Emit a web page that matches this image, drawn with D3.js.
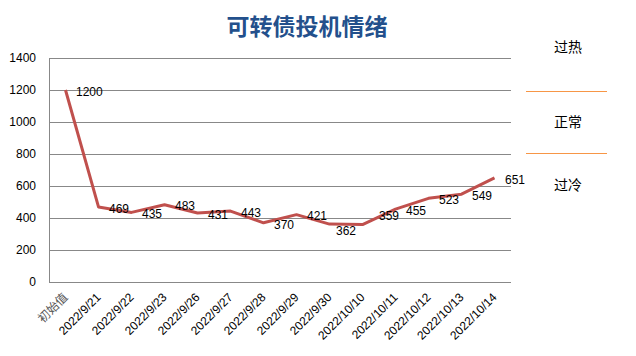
<!DOCTYPE html>
<html><head><meta charset="utf-8">
<script src="https://cdn.jsdelivr.net/npm/d3@7"></script>
<style>body{margin:0;background:#fff}svg{display:block}</style>
</head><body><div id="chart"></div>
<script>
const categories = ["初始值","2022/9/21","2022/9/22","2022/9/23","2022/9/26","2022/9/27","2022/9/28","2022/9/29","2022/9/30","2022/10/10","2022/10/11","2022/10/12","2022/10/13","2022/10/14"];
const values = [1200,469,435,483,431,443,370,421,362,359,455,523,549,651];
const yTicks = [0,200,400,600,800,1000,1200,1400];
const zoneLabels = ["过热","正常","过冷"];
const title = "可转债投机情绪";

const W = 636, H = 356;
const m = {left:49, right:125, top:58, bottom:74};
const svg = d3.select("#chart").append("svg").attr("width",W).attr("height",H);
const x = d3.scaleBand().domain(categories).range([m.left, W-m.right]);
const y = d3.scaleLinear().domain([0,1400]).range([H-m.bottom, m.top]);

svg.append("text").attr("x",307).attr("y",35).attr("text-anchor","middle")
  .attr("font-family","'Noto Sans CJK SC'").attr("font-weight","bold").attr("font-size",23)
  .attr("fill","#23508c").text(title);

// gridlines
svg.append("g").selectAll("line").data(yTicks).join("line")
  .attr("x1",m.left).attr("x2",W-m.right).attr("y1",d=>Math.round(y(d))+0.5).attr("y2",d=>Math.round(y(d))+0.5)
  .attr("stroke","#888").attr("stroke-width",1);
svg.append("line").attr("x1",m.left+0.5).attr("x2",m.left+0.5).attr("y1",y(1400)).attr("y2",y(0)+0.5).attr("stroke","#888");

// y axis labels
const yAxis = d3.axisLeft(y).tickValues(yTicks).tickFormat(d3.format("d")).tickSize(0).tickPadding(13);
const gy = svg.append("g").attr("transform",`translate(${m.left},0)`).call(yAxis);
gy.select(".domain").remove();
gy.selectAll("text").attr("font-family","'Liberation Sans'").attr("font-size",12).attr("fill","#000");

// x labels
const xAxis = d3.axisBottom(x).tickSize(0).tickPadding(0);
const gx = svg.append("g").attr("transform",`translate(0,${H-m.bottom})`).call(xAxis);
gx.select(".domain").remove();
gx.selectAll("text").attr("font-family","'Liberation Sans','Noto Sans CJK SC'").attr("font-size",12).attr("fill","#000")
  .attr("text-anchor","end").attr("dy",0).attr("y",0)
  .attr("transform","translate(3,16) rotate(-45)");
gx.selectAll(".tick text").filter(d=>d==="初始值").attr("fill","#555");

// line
const line = d3.line().x(d=>x(d.c)+x.bandwidth()/2).y(d=>y(d.v));
const pts = categories.map((c,i)=>({c, v:values[i], i}));
svg.append("path").datum(pts).attr("d",line).attr("fill","none")
  .attr("stroke","#c0504d").attr("stroke-width",3).attr("stroke-linejoin","round");

// data labels
const nudgeX = {8:-4, 9:6}, nudgeY = {8:5, 9:-10};
svg.append("g").selectAll("text").data(pts).join("text")
  .attr("x",d=>x(d.c)+x.bandwidth()/2+10.5+(nudgeX[d.i]||0))
  .attr("y",d=>y(d.v)+1.5+(nudgeY[d.i]||0))
  .attr("dy","0.35em")
  .attr("font-family","'Liberation Sans'").attr("font-size",12).attr("fill","#000")
  .text(d=>d.v);

// zones
const zoneY = [46.5,121.5,185];
svg.append("g").selectAll("text").data(zoneLabels).join("text")
  .attr("x",568).attr("y",(d,i)=>zoneY[i]).attr("dy","0.36em").attr("text-anchor","middle")
  .attr("font-family","'Noto Sans CJK SC'").attr("font-size",14).attr("fill","#000").text(d=>d);
svg.append("g").selectAll("line").data([91.5,153.5]).join("line")
  .attr("x1",526).attr("x2",607).attr("y1",d=>d).attr("y2",d=>d)
  .attr("stroke","#f79646").attr("stroke-width",1.2);
</script></body></html>
